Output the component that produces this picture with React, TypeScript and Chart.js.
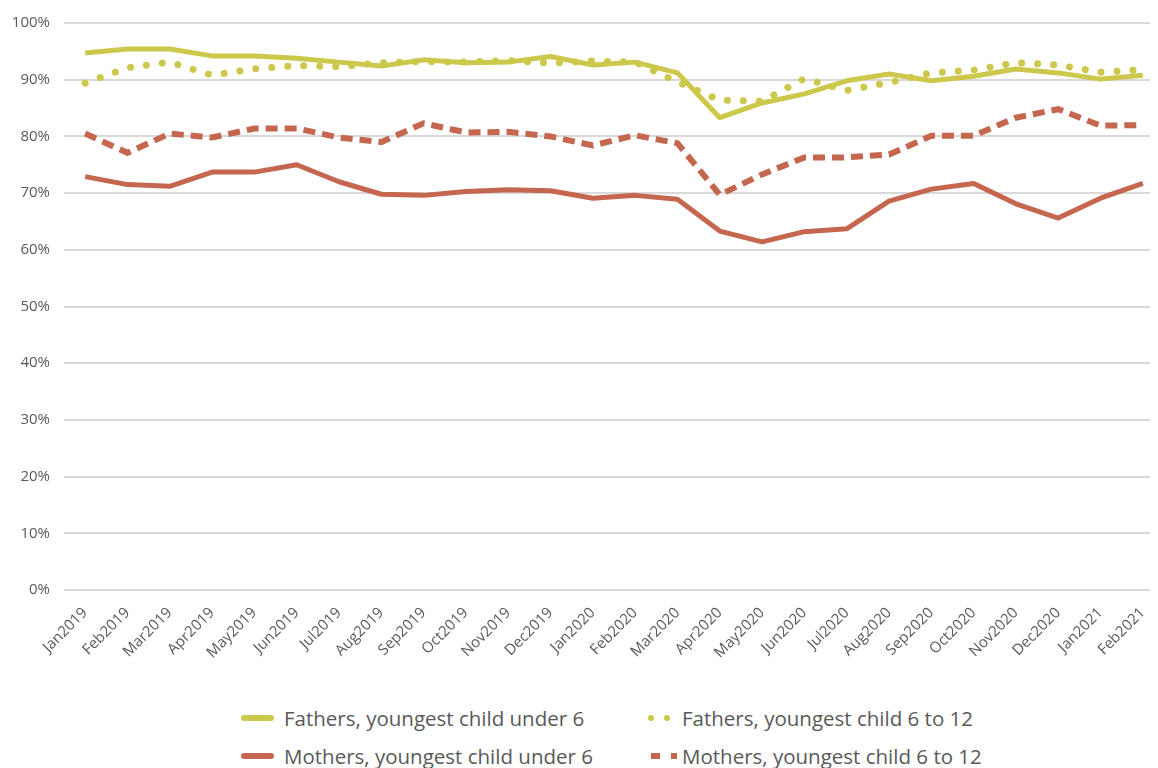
import { useEffect, useRef } from "react";
import { Chart, registerables } from "chart.js";

Chart.register(...registerables);

const months = [
  "Jan2019", "Feb2019", "Mar2019", "Apr2019", "May2019", "Jun2019", "Jul2019", "Aug2019",
  "Sep2019", "Oct2019", "Nov2019", "Dec2019", "Jan2020", "Feb2020", "Mar2020", "Apr2020",
  "May2020", "Jun2020", "Jul2020", "Aug2020", "Sep2020", "Oct2020", "Nov2020", "Dec2020",
  "Jan2021", "Feb2021",
];

const fathersUnder6 = [
  94.7, 95.4, 95.4, 94.2, 94.2, 93.8, 93.1, 92.4, 93.5, 93.0, 93.1, 94.1, 92.6,
  93.1, 91.2, 83.3, 85.9, 87.5, 89.8, 91.0, 89.8, 90.6, 91.9, 91.2, 90.1, 90.8,
];
const fathers6to12 = [
  89.4, 92.1, 93.1, 90.8, 91.9, 92.5, 92.3, 93.0, 93.2, 93.1, 93.4, 92.9, 93.3,
  93.1, 89.6, 86.4, 86.2, 90.2, 88.1, 89.5, 91.2, 91.7, 93.0, 92.6, 91.3, 91.8,
];
const mothersUnder6 = [
  72.9, 71.5, 71.2, 73.7, 73.7, 75.0, 72.0, 69.8, 69.6, 70.3, 70.6, 70.4, 69.1,
  69.6, 68.9, 63.3, 61.4, 63.2, 63.7, 68.6, 70.7, 71.7, 68.1, 65.6, 69.1, 71.7,
];
const mothers6to12 = [
  80.5, 77.1, 80.5, 79.8, 81.4, 81.4, 79.8, 79.0, 82.3, 80.7, 80.8, 80.0, 78.4,
  80.2, 78.8, 69.7, 73.3, 76.3, 76.3, 76.8, 80.1, 80.1, 83.3, 84.8, 81.9, 82.0,
];
const yTicks = [0, 10, 20, 30, 40, 50, 60, 70, 80, 90, 100];

const YELLOW = "#cbc84b";
const RED = "#c5664f";
const TEXT = "#595959";
const FONT = "'Open Sans', 'Noto Sans', sans-serif";

export default function App() {
  const ref = useRef<HTMLCanvasElement | null>(null);

  useEffect(() => {
    document.documentElement.style.overflow = "hidden";
    document.body.style.overflow = "hidden";
    const ctx = ref.current;
    if (!ctx) return;
    const chart = new Chart(ctx, {
      type: "line",
      data: {
        labels: months,
        datasets: [
          {
            label: "Fathers, youngest child under 6",
            data: fathersUnder6,
            borderColor: YELLOW,
            borderWidth: 5,
            borderJoinStyle: "round",
            pointRadius: 0,
            tension: 0,
          },
          {
            label: "Fathers, youngest child 6 to 12",
            data: fathers6to12,
            borderColor: YELLOW,
            borderWidth: 7,
            borderDash: [0.01, 16],
            borderCapStyle: "round",
            pointRadius: 0,
            tension: 0,
          },
          {
            label: "Mothers, youngest child under 6",
            data: mothersUnder6,
            borderColor: RED,
            borderWidth: 5,
            borderJoinStyle: "round",
            pointRadius: 0,
            tension: 0,
          },
          {
            label: "Mothers, youngest child 6 to 12",
            data: mothers6to12,
            borderColor: RED,
            borderWidth: 6,
            borderDash: [12, 7],
            borderCapStyle: "butt",
            pointRadius: 0,
            tension: 0,
          },
        ],
      },
      options: {
        responsive: false,
        animation: false,
        layout: { padding: { top: 6, right: 4, left: 0, bottom: 0 } },
        plugins: { legend: { display: false }, tooltip: { enabled: false } },
        scales: {
          x: {
            offset: true,
            grid: { display: false },
            border: { display: false },
            ticks: {
              color: TEXT,
              font: { family: FONT, size: 15 },
              maxRotation: 45,
              minRotation: 45,
              padding: 6,
              autoSkip: false,
            },
            afterFit: (s: any) => {
              s.height = 100;
            },
          },
          y: {
            min: 0,
            max: 100,
            afterBuildTicks: (s: any) => {
              s.ticks = yTicks.map((v) => ({ value: v }));
            },
            grid: { color: "#d9d9d9", lineWidth: 2, drawTicks: false },
            border: { display: false },
            ticks: {
              color: TEXT,
              font: { family: FONT, size: 15 },
              padding: 14,
              callback: (v: any) => v + "%",
            },
            afterFit: (s: any) => {
              s.width = 56;
            },
          },
        },
      },
    });
    return () => chart.destroy();
  }, []);

  const textStyle: React.CSSProperties = {
    position: "absolute",
    fontFamily: FONT,
    fontSize: 20.5,
    color: TEXT,
    lineHeight: "24px",
    whiteSpace: "nowrap",
    transform: "translateY(-50%)",
  };
  const box = (left: number, top: number, w: number, h: number, color: string, r: number): React.CSSProperties => ({
    position: "absolute",
    left,
    top: top - h / 2,
    width: w,
    height: h,
    background: color,
    borderRadius: r,
  });

  return (
    <div style={{ position: "relative", width: 1150, height: 760, overflow: "hidden" }}>
      <canvas ref={ref} width={1160} height={690} style={{ display: "block", marginTop: -8 }} />
      <div style={box(233, 710, 33, 6, YELLOW, 3)} />
      <div style={{ ...textStyle, left: 276, top: 710 }}>Fathers, youngest child under 6</div>
      <div style={box(640, 710, 6, 6, YELLOW, 3)} />
      <div style={box(656, 710, 6, 6, YELLOW, 3)} />
      <div style={{ ...textStyle, left: 674, top: 710 }}>Fathers, youngest child 6 to 12</div>
      <div style={box(233, 748, 33, 6, RED, 3)} />
      <div style={{ ...textStyle, left: 276, top: 748 }}>Mothers, youngest child under 6</div>
      <div style={box(643, 748, 9, 6, RED, 0)} />
      <div style={box(663, 748, 6, 6, RED, 0)} />
      <div style={{ ...textStyle, left: 674, top: 748 }}>Mothers, youngest child 6 to 12</div>
    </div>
  );
}
